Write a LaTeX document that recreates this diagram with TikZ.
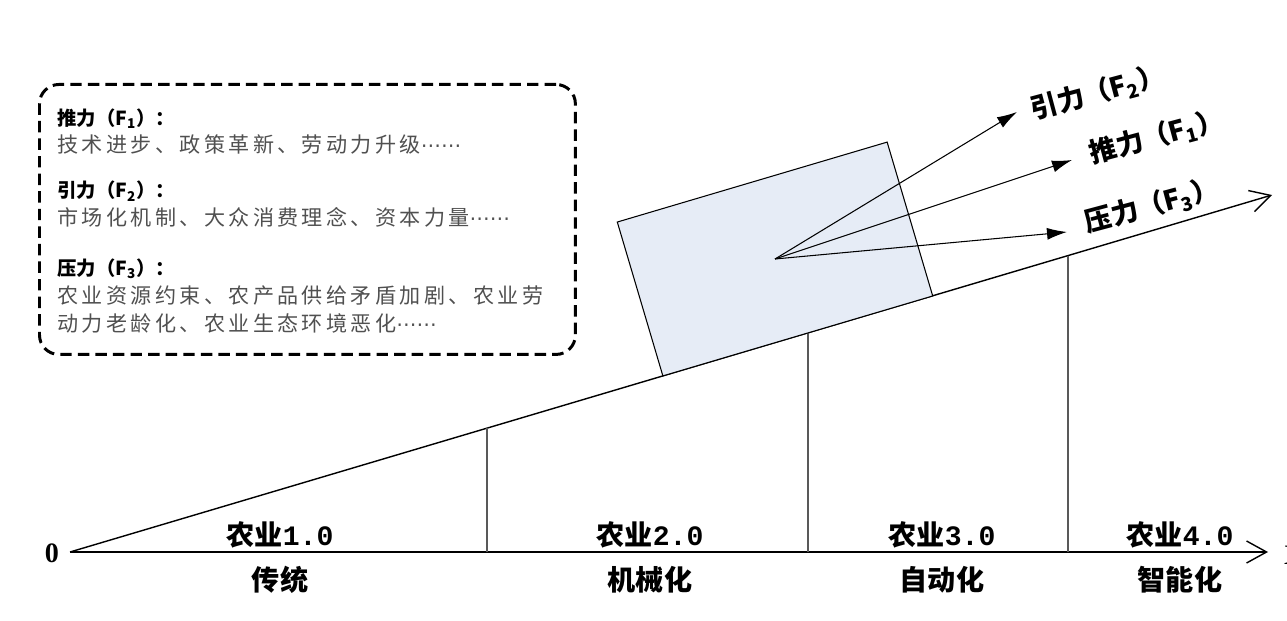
\documentclass[tikz,border=0pt]{standalone}
\usepackage{fontspec}
\setmainfont{Noto Sans CJK SC}
\newfontfamily\numfont{Liberation Serif}
\newfontfamily\monofont{Liberation Mono}
\newfontfamily\dotsfont{DejaVu Sans}
\newfontfamily\bodyfont[LetterSpace=16]{Noto Sans CJK SC}
\usetikzlibrary{arrows.meta,positioning,calc}
\definecolor{blockfill}{HTML}{E6ECF6}
\definecolor{bodygray}{HTML}{505050}
\newcommand{\cdotsdots}{{\dotsfont\fontsize{11.5}{12}\selectfont ⋯⋯}}

\begin{document}
\begin{tikzpicture}[
    x=0.02cm, y=-0.02cm,
    axis/.style={-{Straight Barb[length=4mm,width=4.4mm]},thick},
    force/.style={-{Latex[length=4mm,width=2.4mm]},semithick},
    drop/.style={draw=black!65,semithick},
    era/.style={font=\fontsize{16}{18}\selectfont\bfseries},
    flabel/.style={font=\fontsize{15.5}{17}\selectfont\bfseries,rotate=15},
    block/.style={draw,semithick,fill=blockfill,rotate=16.5,minimum width=5.63cm,minimum height=3.21cm},
    infobox/.style={draw,line width=1.7pt,dash pattern=on 6.5pt off 3.5pt,rounded corners=11pt,minimum width=10.72cm,minimum height=5.4cm,anchor=north west},
    head/.style={font=\fontsize{11}{14}\selectfont\bfseries}
]
\useasboundingbox (0,0) rectangle (1287,621);

% axes
\coordinate (O) at (70,552);
\coordinate (xend) at (1268,552);
\coordinate (yend) at (1272,195);
\node[font=\fontsize{16}{18}\selectfont\numfont\bfseries] (zero) at (52,553) {0};
\node[font=\fontsize{16}{18}\selectfont\numfont\bfseries,anchor=west] (xlab) at (1278,555) {X};
\node[font=\fontsize{16}{18}\selectfont\numfont\bfseries,anchor=west] (ylab) at (1281,197) {Y};
\draw[axis] (O) -- (xend);
\draw[axis] (O) -- (yend);

% stage borders
\foreach \x [count=\i] in {487,808,1068} {
    \coordinate (s\i) at ($(O)!{(\x-70)/1202}!(yend)$);
    \draw[drop] (s\i) -- (s\i |- O);
}

% stages
\foreach \x/\v/\s [count=\i] in {280/1.0/传统,650/2.0/机械化,942/3.0/自动化,1180/4.0/智能化} {
    \node[era] (era\i) at (\x,535) {农业{\monofont\bfseries\v}};
    \node[era] (name\i) at (\x,580) {\s};
}

% block and forces
\node[block] (box) at (775,259) {};
\coordinate (f2end) at (1017,112);
\coordinate (f1end) at (1072,160);
\coordinate (f3end) at (1067,232);
\draw[force] (box.center) -- (f2end);
\draw[force] (box.center) -- (f1end);
\draw[force] (box.center) -- (f3end);
\node[flabel] (f2lab) at (1098,93) {引力（F\textsubscript{2}）};
\node[flabel] (f1lab) at (1157,137) {推力（F\textsubscript{1}）};
\node[flabel] (f3lab) at (1152,206) {压力（F\textsubscript{3}）};

% factor list
\node[infobox] (factors) at (38,83) {};
\node[anchor=north west,inner sep=0pt,align=left,font=\fontsize{12}{15.9}\selectfont,text=bodygray] (list) at ([xshift=0.38cm,yshift=-0.5cm]factors.north west) {%
    {\color{black}\bfseries\fontsize{11}{15.9}\selectfont 推力（F\textsubscript{1}）：}\\
    {\bodyfont 技术进步、政策革新、劳动力升级}\cdotsdots\\[9.6pt]
    {\color{black}\bfseries\fontsize{11}{15.9}\selectfont 引力（F\textsubscript{2}）：}\\
    {\bodyfont 市场化机制、大众消费理念、资本力量}\cdotsdots\\[12.5pt]
    {\color{black}\bfseries\fontsize{11}{15.9}\selectfont 压力（F\textsubscript{3}）：}\\
    {\bodyfont 农业资源约束、农产品供给矛盾加剧、农业劳}\\
    {\bodyfont 动力老龄化、农业生态环境恶化}\cdotsdots};
\end{tikzpicture}
\end{document}
